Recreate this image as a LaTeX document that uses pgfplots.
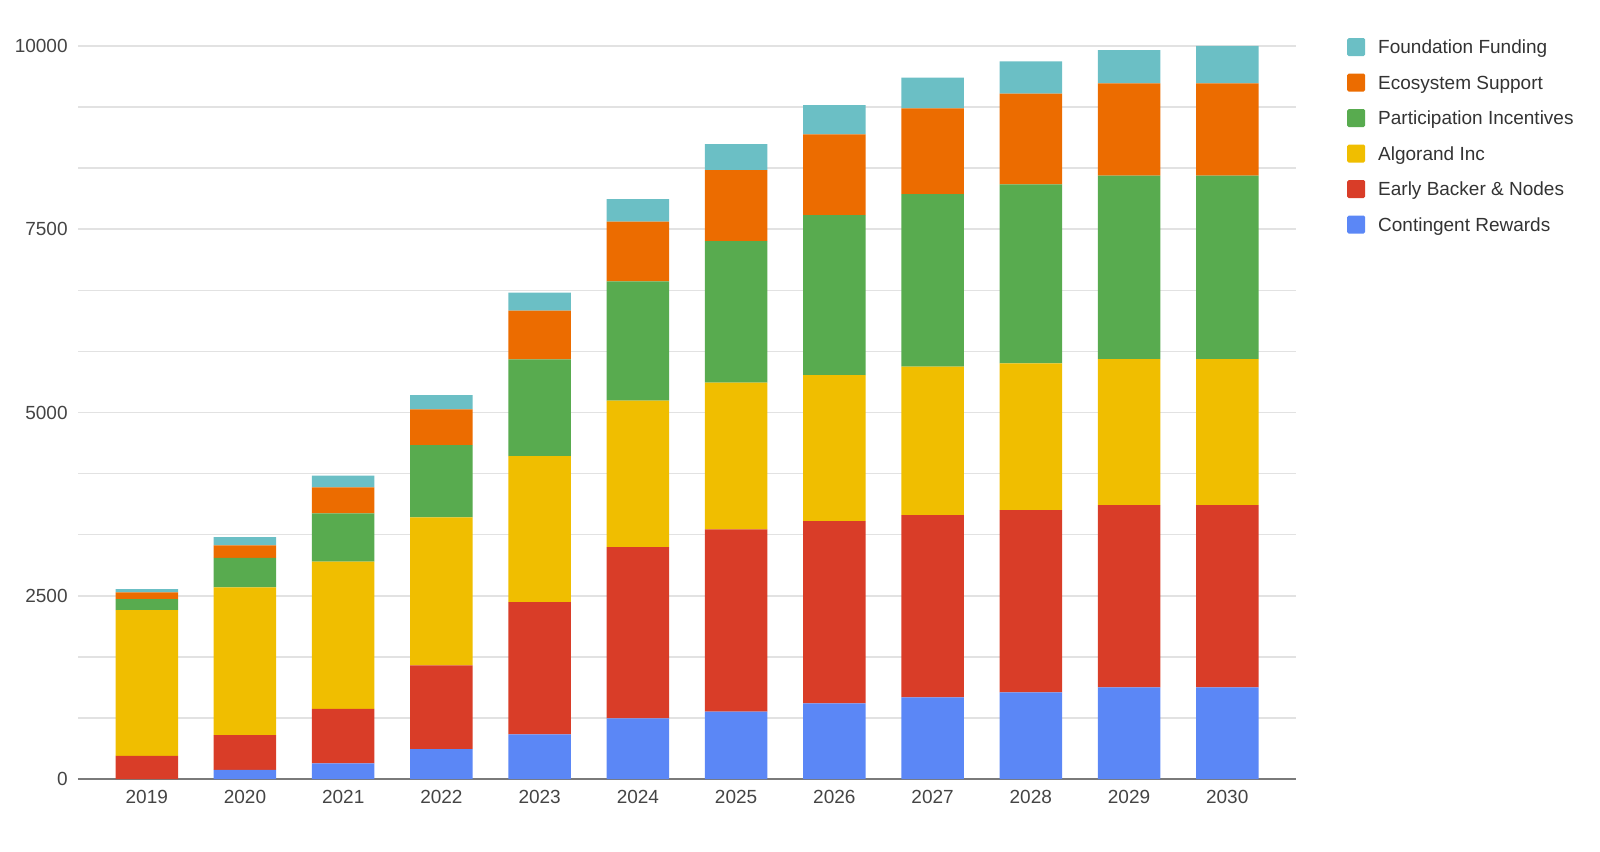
\documentclass[border=0pt]{standalone}
\usepackage{fontspec}
\setmainfont{Liberation Sans}
\usepackage{pgfplots}
\usepackage{pgfplotstable}
\pgfplotsset{compat=1.18}
\definecolor{cBlue}{HTML}{5B87F6}
\definecolor{cRed}{HTML}{D93D28}
\definecolor{cYellow}{HTML}{F0BE00}
\definecolor{cGreen}{HTML}{58AB4F}
\definecolor{cOrange}{HTML}{EC6C00}
\definecolor{cTeal}{HTML}{6BBFC5}
\definecolor{gridgray}{HTML}{E2E2E2}
\definecolor{axisgray}{HTML}{7A7A7A}
\definecolor{tickgray}{HTML}{444444}
\definecolor{leggray}{HTML}{333333}
\pgfplotstableread{
x C E A P S F
0 0 314 1991 150 91 46
1 123 477 2015 400 172 114
2 214 741 2010 659 355 159
3 409 1142 2018 987 487 195
4 609 1805 1992 1319 664 245
5 828 2337 1996 1628 814 309
6 918 2488 2000 1933 968 355
7 1032 2487 1992 2183 1100 400
8 1114 2487 2024 2355 1169 418
9 1182 2487 2001 2442 1237 441
10 1250 2488 1991 2501 1260 454
11 1250 2488 1991 2501 1260 510
}\data
\begin{document}
\begin{tikzpicture}[x=1pt,y=1pt]
\useasboundingbox (0,0) rectangle (800,425.5);
\begin{axis}[
  at={(39pt,36pt)}, anchor=south west,
  scale only axis, width=609pt, height=366.5pt,
  ybar stacked, bar width=31.25pt,
  xmin=-0.7, xmax=11.7, ymin=0, ymax=10000,
  enlargelimits=false,
  xtick={0,1,2,3,4,5,6,7,8,9,10,11},
  xticklabels={2019,2020,2021,2022,2023,2024,2025,2026,2027,2028,2029,2030},
  ytick={0,2500,5000,7500,10000},
  minor y tick num=2,
  ymajorgrids, yminorgrids,
  major grid style={draw=gridgray, line width=0.8pt},
  minor grid style={draw=gridgray, line width=0.8pt},
  major tick length=0pt, minor tick length=0pt,
  axis x line*=bottom, axis y line*=left,
  y axis line style={draw=none},
  x axis line style={draw=axisgray, line width=1pt, -},
  scaled y ticks=false,
  /pgf/number format/assume math mode=true,
  yticklabel style={/pgf/number format/1000 sep={}, inner sep=0pt, xshift=-5pt},
  xticklabel style={inner sep=0pt, yshift=-5.5pt},
  ticklabel style={font=\fontsize{9.5}{11}\selectfont, text=tickgray},
  legend style={at={(axis description cs:1.0417,1.0113)}, anchor=north west,
    draw=none, fill=none, inner sep=0pt, row sep=8.75pt, column sep=6.5pt,
    font=\fontsize{9.5}{11}\selectfont, text=leggray,
    nodes={inner sep=0pt, text height=6.8pt, text depth=0pt}},
  legend cell align=left,
  reverse legend,
  legend image code/.code={\fill[#1,draw=none,rounded corners=0.8pt] (0pt,-4.5pt) rectangle (9pt,4.5pt);},
]
\addplot[fill=cBlue, draw=none] table[x=x,y=C]{\data};
\addplot[fill=cRed, draw=none] table[x=x,y=E]{\data};
\addplot[fill=cYellow, draw=none] table[x=x,y=A]{\data};
\addplot[fill=cGreen, draw=none] table[x=x,y=P]{\data};
\addplot[fill=cOrange, draw=none] table[x=x,y=S]{\data};
\addplot[fill=cTeal, draw=none] table[x=x,y=F]{\data};
\legend{Contingent Rewards, Early Backer \& Nodes, Algorand Inc, Participation Incentives, Ecosystem Support, Foundation Funding}
\end{axis}
\end{tikzpicture}
\end{document}
